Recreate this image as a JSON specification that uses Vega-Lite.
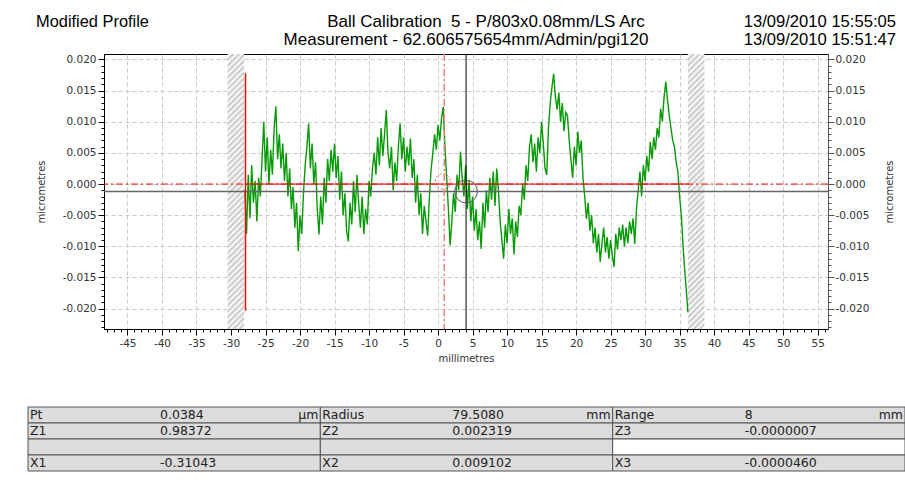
{
  "$schema": "https://vega.github.io/schema/vega-lite/v6.json",
  "padding": {"left": 27, "top": 13, "right": 0, "bottom": 0},
  "background": "white",
  "config": {"font": "DejaVu Sans", "view": {"stroke": null}},
  "datasets": {
    "header": [
      {"pos": "left", "line": 1, "text": "Modified Profile"},
      {"pos": "center", "line": 1, "text": "Ball Calibration \u00a05 - P/803x0.08mm/LS Arc"},
      {"pos": "center", "line": 2, "text": "Measurement - 62.606575654mm/Admin/pgi120"},
      {"pos": "right", "line": 1, "text": "13/09/2010 15:55:05"},
      {"pos": "right", "line": 2, "text": "13/09/2010 15:51:47"}
    ],
    "exclusion": [
      {"start": -30.5, "end": -28.1},
      {"start": 36.2, "end": 38.6}
    ],
    "profile": [
      {"x":-28.0,"z":-0.001},{"x":-27.75,"z":-0.008},{"x":-27.5,"z":0.0015},{"x":-27.25,"z":-0.0055},{"x":-27.0,"z":0.003},
      {"x":-26.75,"z":-0.003},{"x":-26.5,"z":0.0005},{"x":-26.25,"z":-0.006},{"x":-26.0,"z":0.001},{"x":-25.75,"z":-0.002},
      {"x":-25.5,"z":0.004},{"x":-25.25,"z":0.010},{"x":-25.0,"z":0.002},{"x":-24.75,"z":0.0075},{"x":-24.5,"z":0.0},
      {"x":-24.25,"z":0.0055},{"x":-24.0,"z":0.0015},{"x":-23.75,"z":0.009},{"x":-23.5,"z":0.0125},{"x":-23.25,"z":0.004},
      {"x":-23.0,"z":0.008},{"x":-22.75,"z":0.0025},{"x":-22.5,"z":0.0065},{"x":-22.25,"z":0.0005},{"x":-22.0,"z":0.005},
      {"x":-21.75,"z":-0.002},{"x":-21.5,"z":0.0025},{"x":-21.25,"z":-0.004},{"x":-21.0,"z":-0.0005},{"x":-20.75,"z":-0.007},
      {"x":-20.5,"z":-0.003},{"x":-20.25,"z":-0.0108},{"x":-20.0,"z":-0.005},{"x":-19.75,"z":-0.008},{"x":-19.5,"z":-0.0015},
      {"x":-19.25,"z":0.003},{"x":-19.0,"z":0.006},{"x":-18.75,"z":0.0097},{"x":-18.5,"z":0.0025},{"x":-18.25,"z":0.0065},
      {"x":-18.0,"z":0.0},{"x":-17.75,"z":0.0035},{"x":-17.5,"z":-0.004},{"x":-17.25,"z":-0.0081},{"x":-17.0,"z":-0.002},
      {"x":-16.75,"z":-0.0065},{"x":-16.5,"z":0.001},{"x":-16.25,"z":-0.003},{"x":-16.0,"z":0.004},{"x":-15.75,"z":0.0005},
      {"x":-15.5,"z":0.0055},{"x":-15.25,"z":0.002},{"x":-15.0,"z":0.0065},{"x":-14.75,"z":0.001},{"x":-14.5,"z":0.0045},
      {"x":-14.25,"z":-0.0025},{"x":-14.0,"z":0.002},{"x":-13.75,"z":-0.005},{"x":-13.5,"z":-0.0015},{"x":-13.25,"z":-0.0075},
      {"x":-13.0,"z":-0.0092},{"x":-12.75,"z":-0.003},{"x":-12.5,"z":-0.0065},{"x":-12.25,"z":0.0005},{"x":-12.0,"z":-0.0045},
      {"x":-11.75,"z":0.0015},{"x":-11.5,"z":-0.003},{"x":-11.25,"z":-0.007},{"x":-11.0,"z":-0.002},{"x":-10.75,"z":-0.008},
      {"x":-10.5,"z":-0.004},{"x":-10.25,"z":-0.0065},{"x":-10.0,"z":0.0005},{"x":-9.75,"z":-0.002},{"x":-9.5,"z":0.0025},
      {"x":-9.25,"z":0.005},{"x":-9.0,"z":0.0015},{"x":-8.75,"z":0.0075},{"x":-8.5,"z":0.003},{"x":-8.25,"z":0.009},
      {"x":-8.0,"z":0.0045},{"x":-7.75,"z":0.008},{"x":-7.5,"z":0.0119},{"x":-7.25,"z":0.005},{"x":-7.0,"z":0.0025},
      {"x":-6.75,"z":0.006},{"x":-6.5,"z":-0.001},{"x":-6.25,"z":0.0035},{"x":-6.0,"z":0.0005},{"x":-5.75,"z":0.006},
      {"x":-5.5,"z":0.0097},{"x":-5.25,"z":0.004},{"x":-5.0,"z":0.0075},{"x":-4.75,"z":0.002},{"x":-4.5,"z":0.006},
      {"x":-4.25,"z":0.003},{"x":-4.0,"z":0.0073},{"x":-3.75,"z":0.001},{"x":-3.5,"z":0.004},{"x":-3.25,"z":-0.003},
      {"x":-3.0,"z":0.0015},{"x":-2.75,"z":-0.005},{"x":-2.5,"z":-0.0015},{"x":-2.25,"z":-0.008},{"x":-2.0,"z":-0.0035},
      {"x":-1.75,"z":-0.006},{"x":-1.5,"z":-0.0083},{"x":-1.25,"z":-0.002},{"x":-1.0,"z":0.0025},{"x":-0.75,"z":0.005},
      {"x":-0.5,"z":0.008},{"x":-0.25,"z":0.0055},{"x":0.0,"z":0.0095},{"x":0.25,"z":0.007},{"x":0.5,"z":0.0105},
      {"x":0.75,"z":0.0124},{"x":1.0,"z":0.006},{"x":1.25,"z":0.001},{"x":1.5,"z":-0.004},{"x":1.75,"z":-0.0098},
      {"x":2.0,"z":-0.006},{"x":2.25,"z":-0.0015},{"x":2.5,"z":-0.0045},{"x":2.75,"z":0.0015},{"x":3.0,"z":-0.001},
      {"x":3.25,"z":0.0052},{"x":3.5,"z":0.001},{"x":3.75,"z":-0.002},{"x":4.0,"z":0.003},{"x":4.25,"z":-0.004},
      {"x":4.5,"z":0.0005},{"x":4.75,"z":-0.006},{"x":5.0,"z":-0.002},{"x":5.25,"z":-0.0075},{"x":5.5,"z":-0.004},
      {"x":5.75,"z":-0.009},{"x":6.0,"z":-0.006},{"x":6.25,"z":-0.0104},{"x":6.5,"z":-0.003},{"x":6.75,"z":-0.007},
      {"x":7.0,"z":-0.001},{"x":7.25,"z":-0.0045},{"x":7.5,"z":0.001},{"x":7.75,"z":-0.0025},{"x":8.0,"z":0.002},
      {"x":8.25,"z":-0.0035},{"x":8.5,"z":0.0025},{"x":8.75,"z":-0.001},{"x":9.0,"z":-0.006},{"x":9.25,"z":-0.009},
      {"x":9.5,"z":-0.012},{"x":9.75,"z":-0.0065},{"x":10.0,"z":-0.0095},{"x":10.25,"z":-0.004},{"x":10.5,"z":-0.008},
      {"x":10.75,"z":-0.0055},{"x":11.0,"z":-0.0113},{"x":11.25,"z":-0.006},{"x":11.5,"z":-0.0085},{"x":11.75,"z":-0.0035},
      {"x":12.0,"z":-0.005},{"x":12.25,"z":0.0},{"x":12.5,"z":-0.0025},{"x":12.75,"z":0.003},{"x":13.0,"z":0.0005},
      {"x":13.25,"z":0.006},{"x":13.5,"z":0.008},{"x":13.75,"z":0.0035},{"x":14.0,"z":0.0065},{"x":14.25,"z":0.002},
      {"x":14.5,"z":0.0075},{"x":14.75,"z":0.005},{"x":15.0,"z":0.010},{"x":15.25,"z":0.0065},{"x":15.5,"z":0.0025},
      {"x":15.75,"z":0.0015},{"x":16.0,"z":0.009},{"x":16.25,"z":0.013},{"x":16.5,"z":0.0155},{"x":16.75,"z":0.0177},
      {"x":17.0,"z":0.014},{"x":17.25,"z":0.012},{"x":17.5,"z":0.0147},{"x":17.75,"z":0.010},{"x":18.0,"z":0.013},
      {"x":18.25,"z":0.0085},{"x":18.5,"z":0.0115},{"x":18.75,"z":0.011},{"x":19.0,"z":0.007},{"x":19.25,"z":0.004},
      {"x":19.5,"z":0.001},{"x":19.75,"z":0.006},{"x":20.0,"z":0.003},{"x":20.25,"z":0.0084},{"x":20.5,"z":0.005},
      {"x":20.75,"z":0.007},{"x":21.0,"z":0.001},{"x":21.25,"z":-0.002},{"x":21.5,"z":-0.0056},{"x":21.75,"z":-0.003},
      {"x":22.0,"z":-0.0075},{"x":22.25,"z":-0.005},{"x":22.5,"z":-0.0095},{"x":22.75,"z":-0.007},{"x":23.0,"z":-0.011},
      {"x":23.25,"z":-0.008},{"x":23.5,"z":-0.0125},{"x":23.75,"z":-0.0095},{"x":24.0,"z":-0.007},{"x":24.25,"z":-0.011},
      {"x":24.5,"z":-0.0085},{"x":24.75,"z":-0.012},{"x":25.0,"z":-0.009},{"x":25.25,"z":-0.0115},{"x":25.5,"z":-0.0133},
      {"x":25.75,"z":-0.008},{"x":26.0,"z":-0.0105},{"x":26.25,"z":-0.007},{"x":26.5,"z":-0.009},{"x":26.75,"z":-0.0065},
      {"x":27.0,"z":-0.010},{"x":27.25,"z":-0.007},{"x":27.5,"z":-0.0095},{"x":27.75,"z":-0.006},{"x":28.0,"z":-0.008},
      {"x":28.25,"z":-0.0055},{"x":28.5,"z":-0.0096},{"x":28.75,"z":-0.004},{"x":29.0,"z":-0.001},{"x":29.25,"z":0.002},
      {"x":29.5,"z":-0.002},{"x":29.75,"z":0.003},{"x":30.0,"z":0.0005},{"x":30.25,"z":0.0045},{"x":30.5,"z":0.002},
      {"x":30.75,"z":0.0068},{"x":31.0,"z":0.004},{"x":31.25,"z":0.0075},{"x":31.5,"z":0.0055},{"x":31.75,"z":0.009},
      {"x":32.0,"z":0.0075},{"x":32.25,"z":0.0121},{"x":32.5,"z":0.010},{"x":32.75,"z":0.014},{"x":33.0,"z":0.0164},
      {"x":33.25,"z":0.0135},{"x":33.5,"z":0.011},{"x":33.75,"z":0.009},{"x":34.0,"z":0.007},{"x":34.25,"z":0.006},
      {"x":34.5,"z":0.0035},{"x":34.75,"z":0.002},{"x":35.0,"z":-0.002},{"x":35.25,"z":-0.005},{"x":35.5,"z":-0.010},
      {"x":35.75,"z":-0.014},{"x":36.0,"z":-0.0175},{"x":36.2,"z":-0.0206}
    ],
    "table": [
      {"row": 1, "col": 1, "label": "Pt", "value": "0.0384", "unit": "µm"},
      {"row": 1, "col": 2, "label": "Radius", "value": "79.5080", "unit": "mm"},
      {"row": 1, "col": 3, "label": "Range", "value": "8", "unit": "mm"},
      {"row": 2, "col": 1, "label": "Z1", "value": "0.98372", "unit": ""},
      {"row": 2, "col": 2, "label": "Z2", "value": "0.002319", "unit": ""},
      {"row": 2, "col": 3, "label": "Z3", "value": "-0.0000007", "unit": ""},
      {"row": 3, "col": 1, "label": "", "value": "", "unit": ""},
      {"row": 3, "col": 2, "label": "", "value": "", "unit": ""},
      {"row": 3, "col": 3, "label": "", "value": "", "unit": ""},
      {"row": 4, "col": 1, "label": "X1", "value": "-0.31043", "unit": ""},
      {"row": 4, "col": 2, "label": "X2", "value": "0.009102", "unit": ""},
      {"row": 4, "col": 3, "label": "X3", "value": "-0.0000460", "unit": ""}
    ]
  },
  "spacing": 42,
  "vconcat": [
    {
      "spacing": 3,
      "vconcat": [
        {
          "width": 792,
          "height": 36,
          "data": {"name": "header"},
          "encoding": {
            "x": {"field": "pos", "type": "nominal", "scale": {"type": "point", "domain": ["left", "center", "right"], "padding": 0, "range": [-68, 792]}, "axis": null},
            "y": {"field": "line", "type": "ordinal", "scale": {"type": "band", "domain": [1, 2], "paddingInner": 0, "paddingOuter": 0}, "axis": null},
            "text": {"field": "text"}
          },
          "layer": [
            {"transform": [{"filter": "datum.pos === 'left'"}], "mark": {"type": "text", "align": "left", "baseline": "middle", "font": "Liberation Sans", "fontSize": 16.4, "color": "#000000"}},
            {"transform": [{"filter": "datum.pos === 'center' && datum.line === 1"}], "mark": {"type": "text", "align": "center", "baseline": "middle", "dx": 20, "font": "Liberation Sans", "fontSize": 17, "color": "#000000"}},
            {"transform": [{"filter": "datum.pos === 'center' && datum.line === 2"}], "mark": {"type": "text", "align": "center", "baseline": "middle", "dx": 0, "font": "Liberation Sans", "fontSize": 17, "color": "#000000"}},
            {"transform": [{"filter": "datum.pos === 'right'"}], "mark": {"type": "text", "align": "right", "baseline": "middle", "font": "Liberation Sans", "fontSize": 16.6, "color": "#000000"}}
          ]
        },
        {
          "width": 724,
          "height": 275,
          "view": {"stroke": "#000000", "strokeWidth": 1},
          "resolve": {"axis": {"x": "independent", "y": "independent"}},
          "layer": [
            {
              "data": {"name": "exclusion"},
              "mark": {"type": "rect", "strokeWidth": 0, "fill": {"gradient": "linear", "x1": 0, "y1": 0, "x2": 0.0637, "y2": 1.06, "stops": [
                {"offset":0.00,"color":"#c4c4c4"},{"offset":0.01,"color":"#ffffff"},{"offset":0.02,"color":"#c4c4c4"},{"offset":0.03,"color":"#ffffff"},{"offset":0.04,"color":"#c4c4c4"},{"offset":0.05,"color":"#ffffff"},{"offset":0.06,"color":"#c4c4c4"},{"offset":0.07,"color":"#ffffff"},{"offset":0.08,"color":"#c4c4c4"},{"offset":0.09,"color":"#ffffff"},
                {"offset":0.10,"color":"#c4c4c4"},{"offset":0.11,"color":"#ffffff"},{"offset":0.12,"color":"#c4c4c4"},{"offset":0.13,"color":"#ffffff"},{"offset":0.14,"color":"#c4c4c4"},{"offset":0.15,"color":"#ffffff"},{"offset":0.16,"color":"#c4c4c4"},{"offset":0.17,"color":"#ffffff"},{"offset":0.18,"color":"#c4c4c4"},{"offset":0.19,"color":"#ffffff"},
                {"offset":0.20,"color":"#c4c4c4"},{"offset":0.21,"color":"#ffffff"},{"offset":0.22,"color":"#c4c4c4"},{"offset":0.23,"color":"#ffffff"},{"offset":0.24,"color":"#c4c4c4"},{"offset":0.25,"color":"#ffffff"},{"offset":0.26,"color":"#c4c4c4"},{"offset":0.27,"color":"#ffffff"},{"offset":0.28,"color":"#c4c4c4"},{"offset":0.29,"color":"#ffffff"},
                {"offset":0.30,"color":"#c4c4c4"},{"offset":0.31,"color":"#ffffff"},{"offset":0.32,"color":"#c4c4c4"},{"offset":0.33,"color":"#ffffff"},{"offset":0.34,"color":"#c4c4c4"},{"offset":0.35,"color":"#ffffff"},{"offset":0.36,"color":"#c4c4c4"},{"offset":0.37,"color":"#ffffff"},{"offset":0.38,"color":"#c4c4c4"},{"offset":0.39,"color":"#ffffff"},
                {"offset":0.40,"color":"#c4c4c4"},{"offset":0.41,"color":"#ffffff"},{"offset":0.42,"color":"#c4c4c4"},{"offset":0.43,"color":"#ffffff"},{"offset":0.44,"color":"#c4c4c4"},{"offset":0.45,"color":"#ffffff"},{"offset":0.46,"color":"#c4c4c4"},{"offset":0.47,"color":"#ffffff"},{"offset":0.48,"color":"#c4c4c4"},{"offset":0.49,"color":"#ffffff"},
                {"offset":0.50,"color":"#c4c4c4"},{"offset":0.51,"color":"#ffffff"},{"offset":0.52,"color":"#c4c4c4"},{"offset":0.53,"color":"#ffffff"},{"offset":0.54,"color":"#c4c4c4"},{"offset":0.55,"color":"#ffffff"},{"offset":0.56,"color":"#c4c4c4"},{"offset":0.57,"color":"#ffffff"},{"offset":0.58,"color":"#c4c4c4"},{"offset":0.59,"color":"#ffffff"},
                {"offset":0.60,"color":"#c4c4c4"},{"offset":0.61,"color":"#ffffff"},{"offset":0.62,"color":"#c4c4c4"},{"offset":0.63,"color":"#ffffff"},{"offset":0.64,"color":"#c4c4c4"},{"offset":0.65,"color":"#ffffff"},{"offset":0.66,"color":"#c4c4c4"},{"offset":0.67,"color":"#ffffff"},{"offset":0.68,"color":"#c4c4c4"},{"offset":0.69,"color":"#ffffff"},
                {"offset":0.70,"color":"#c4c4c4"},{"offset":0.71,"color":"#ffffff"},{"offset":0.72,"color":"#c4c4c4"},{"offset":0.73,"color":"#ffffff"},{"offset":0.74,"color":"#c4c4c4"},{"offset":0.75,"color":"#ffffff"},{"offset":0.76,"color":"#c4c4c4"},{"offset":0.77,"color":"#ffffff"},{"offset":0.78,"color":"#c4c4c4"},{"offset":0.79,"color":"#ffffff"},
                {"offset":0.80,"color":"#c4c4c4"},{"offset":0.81,"color":"#ffffff"},{"offset":0.82,"color":"#c4c4c4"},{"offset":0.83,"color":"#ffffff"},{"offset":0.84,"color":"#c4c4c4"},{"offset":0.85,"color":"#ffffff"},{"offset":0.86,"color":"#c4c4c4"},{"offset":0.87,"color":"#ffffff"},{"offset":0.88,"color":"#c4c4c4"},{"offset":0.89,"color":"#ffffff"},
                {"offset":0.90,"color":"#c4c4c4"},{"offset":0.91,"color":"#ffffff"},{"offset":0.92,"color":"#c4c4c4"},{"offset":0.93,"color":"#ffffff"},{"offset":0.94,"color":"#c4c4c4"},{"offset":0.95,"color":"#ffffff"},{"offset":0.96,"color":"#c4c4c4"},{"offset":0.97,"color":"#ffffff"},{"offset":0.98,"color":"#c4c4c4"},{"offset":0.99,"color":"#ffffff"},
                {"offset":1.00,"color":"#c4c4c4"}
              ]}},
              "encoding": {
                "x": {"field": "start", "type": "quantitative", "scale": {"domain": [-48.4, 56.5], "nice": false, "zero": false}, "axis": null},
                "x2": {"field": "end"}
              }
            },
            {
              "data": {"values": [{"z": 0}]},
              "mark": {"type": "rule", "color": "#ff0000", "strokeWidth": 1, "strokeDash": [7, 3, 2, 3]},
              "encoding": {
                "y": {"field": "z", "type": "quantitative", "scale": {"domain": [-0.02327, 0.02088], "nice": false, "zero": false}, "axis": null}
              }
            },
            {
              "data": {"name": "profile"},
              "mark": {"type": "line", "color": "#079a07", "strokeWidth": 1.4, "interpolate": "linear"},
              "encoding": {
                "x": {"field": "x", "type": "quantitative", "scale": {"domain": [-48.4, 56.5], "nice": false, "zero": false},
                  "axis": {"orient": "bottom", "values": [-45, -40, -35, -30, -25, -20, -15, -10, -5, 0, 5, 10, 15, 20, 25, 30, 35, 40, 45, 50, 55], "format": "d", "labelExpr": "replace(datum.label, '−', '-')", "labelFontSize": 10.5, "labelColor": "#333333", "labelPadding": 3, "labelFlush": false, "labelOverlap": false, "tickSize": 6, "tickColor": "#000000", "domainColor": "#000000", "grid": true, "gridColor": "#c8c8c8", "gridDash": [4, 3], "title": "millimetres", "titleFontSize": 10, "titleFontWeight": "normal", "titleColor": "#333333", "titlePadding": 5}},
                "y": {"field": "z", "type": "quantitative", "scale": {"domain": [-0.02327, 0.02088], "nice": false, "zero": false},
                  "axis": {"orient": "left", "values": [-0.02, -0.015, -0.01, -0.005, 0, 0.005, 0.01, 0.015, 0.02], "format": ".3f", "labelExpr": "replace(datum.label, '−', '-')", "labelFontSize": 10.5, "labelColor": "#333333", "labelPadding": 2, "tickSize": 6, "tickColor": "#000000", "domainColor": "#000000", "grid": true, "gridColor": "#c8c8c8", "gridDash": [4, 3], "title": "micrometres", "titleFontSize": 10, "titleFontWeight": "normal", "titleColor": "#333333", "titlePadding": 16}}
              }
            },
            {
              "data": {"values": [{"z": -0.0012}]},
              "mark": {"type": "rule", "color": "#666666", "strokeWidth": 1.5},
              "encoding": {
                "y": {"field": "z", "type": "quantitative", "scale": {"domain": [-0.02327, 0.02088], "nice": false, "zero": false},
                  "axis": {"orient": "right", "values": [-0.023, -0.022, -0.021, -0.02, -0.019, -0.018, -0.017, -0.016, -0.015, -0.014, -0.013, -0.012, -0.011, -0.01, -0.009, -0.008, -0.007, -0.006, -0.005, -0.004, -0.003, -0.002, -0.001, 0, 0.001, 0.002, 0.003, 0.004, 0.005, 0.006, 0.007, 0.008, 0.009, 0.01, 0.011, 0.012, 0.013, 0.014, 0.015, 0.016, 0.017, 0.018, 0.019, 0.02], "labels": false, "tickSize": 3, "tickColor": "#555555", "domain": false, "grid": false, "title": null}}
              }
            },
            {
              "data": {"values": [{"x": -27.9, "x2": 36.4, "z": 0}]},
              "mark": {"type": "rule", "color": "#ff0000", "strokeWidth": 1},
              "encoding": {
                "x": {"field": "x", "type": "quantitative", "scale": {"domain": [-48.4, 56.5], "nice": false, "zero": false},
                  "axis": {"orient": "bottom", "values": [-48, -47, -46, -45, -44, -43, -42, -41, -40, -39, -38, -37, -36, -35, -34, -33, -32, -31, -30, -29, -28, -27, -26, -25, -24, -23, -22, -21, -20, -19, -18, -17, -16, -15, -14, -13, -12, -11, -10, -9, -8, -7, -6, -5, -4, -3, -2, -1, 0, 1, 2, 3, 4, 5, 6, 7, 8, 9, 10, 11, 12, 13, 14, 15, 16, 17, 18, 19, 20, 21, 22, 23, 24, 25, 26, 27, 28, 29, 30, 31, 32, 33, 34, 35, 36, 37, 38, 39, 40, 41, 42, 43, 44, 45, 46, 47, 48, 49, 50, 51, 52, 53, 54, 55, 56], "labels": false, "tickSize": 3, "tickColor": "#000000", "domain": false, "grid": false, "title": null}},
                "x2": {"field": "x2"},
                "y": {"field": "z", "type": "quantitative", "scale": {"domain": [-0.02327, 0.02088], "nice": false, "zero": false},
                  "axis": {"orient": "right", "values": [-0.02, -0.015, -0.01, -0.005, 0, 0.005, 0.01, 0.015, 0.02], "format": ".3f", "labelExpr": "replace(datum.label, '−', '-')", "labelFontSize": 10.5, "labelColor": "#333333", "labelPadding": 1, "tickSize": 6, "tickColor": "#555555", "domainColor": "#555555", "grid": false, "title": "micrometres", "titleFontSize": 10, "titleFontWeight": "normal", "titleColor": "#333333", "titleAngle": 270, "titleBaseline": "top", "titlePadding": 16}}
              }
            },
            {
              "data": {"values": [{"x": -27.9, "z": 0.0178, "z2": -0.0203}]},
              "mark": {"type": "rule", "color": "#ff0000", "strokeWidth": 1.5},
              "encoding": {
                "x": {"field": "x", "type": "quantitative", "scale": {"domain": [-48.4, 56.5], "nice": false, "zero": false}, "axis": null},
                "y": {"field": "z", "type": "quantitative", "scale": {"domain": [-0.02327, 0.02088], "nice": false, "zero": false},
                  "axis": {"orient": "left", "values": [-0.023, -0.022, -0.021, -0.02, -0.019, -0.018, -0.017, -0.016, -0.015, -0.014, -0.013, -0.012, -0.011, -0.01, -0.009, -0.008, -0.007, -0.006, -0.005, -0.004, -0.003, -0.002, -0.001, 0, 0.001, 0.002, 0.003, 0.004, 0.005, 0.006, 0.007, 0.008, 0.009, 0.01, 0.011, 0.012, 0.013, 0.014, 0.015, 0.016, 0.017, 0.018, 0.019, 0.02], "labels": false, "tickSize": 3, "tickColor": "#000000", "domain": false, "grid": false, "title": null}},
                "y2": {"field": "z2"}
              }
            },
            {
              "data": {"values": [{"x": 0.9}]},
              "mark": {"type": "rule", "color": "#f08080", "strokeWidth": 1.5, "strokeDash": [7, 3, 2, 3]},
              "encoding": {
                "x": {"field": "x", "type": "quantitative", "scale": {"domain": [-48.4, 56.5], "nice": false, "zero": false}, "axis": null}
              }
            },
            {
              "data": {"values": [{"x": 4.06}]},
              "mark": {"type": "rule", "color": "#000000", "strokeWidth": 1},
              "encoding": {
                "x": {"field": "x", "type": "quantitative", "scale": {"domain": [-48.4, 56.5], "nice": false, "zero": false}, "axis": null}
              }
            },
            {
              "data": {"values": [{"x": 4.06, "z": -0.0012}]},
              "mark": {"type": "point", "shape": "circle", "filled": false, "size": 520, "stroke": "#555555", "strokeWidth": 1, "opacity": 1},
              "encoding": {
                "x": {"field": "x", "type": "quantitative", "scale": {"domain": [-48.4, 56.5], "nice": false, "zero": false}, "axis": null},
                "y": {"field": "z", "type": "quantitative", "scale": {"domain": [-0.02327, 0.02088], "nice": false, "zero": false}, "axis": null}
              }
            },
            {
              "data": {"values": [{"x": 0.7, "z": 0.0004}]},
              "mark": {"type": "point", "shape": "circle", "filled": false, "size": 230, "stroke": "#ff5050", "strokeWidth": 1, "strokeDash": [2, 2], "opacity": 1},
              "encoding": {
                "x": {"field": "x", "type": "quantitative", "scale": {"domain": [-48.4, 56.5], "nice": false, "zero": false}, "axis": null},
                "y": {"field": "z", "type": "quantitative", "scale": {"domain": [-0.02327, 0.02088], "nice": false, "zero": false}, "axis": null}
              }
            }
          ]
        }
      ]
    },
    {
      "width": 801,
      "height": 64,
      "data": {"name": "table"},
      "encoding": {
        "x": {"field": "col", "type": "ordinal", "scale": {"type": "band", "domain": [1, 2, 3], "paddingInner": 0, "paddingOuter": 0, "range": [-76, 801]}, "axis": null},
        "y": {"field": "row", "type": "ordinal", "scale": {"type": "band", "domain": [1, 2, 3, 4], "paddingInner": 0, "paddingOuter": 0}, "axis": null}
      },
      "layer": [
        {
          "mark": {"type": "rect", "stroke": "#555555", "strokeWidth": 1},
          "encoding": {"fill": {"condition": {"test": "datum.row === 3 && datum.col === 3", "value": "#ffffff"}, "value": "#dcdcdc"}}
        },
        {
          "mark": {"type": "text", "align": "left", "baseline": "middle", "dx": 2, "fontSize": 12.5, "color": "#222222"},
          "encoding": {
            "x": {"field": "col", "type": "ordinal", "bandPosition": 0, "scale": {"type": "band", "domain": [1, 2, 3], "paddingInner": 0, "paddingOuter": 0, "range": [-76, 801]}, "axis": null},
            "text": {"field": "label"}
          }
        },
        {
          "mark": {"type": "text", "align": "left", "baseline": "middle", "dx": 132, "fontSize": 12.5, "color": "#222222"},
          "encoding": {
            "x": {"field": "col", "type": "ordinal", "bandPosition": 0, "scale": {"type": "band", "domain": [1, 2, 3], "paddingInner": 0, "paddingOuter": 0, "range": [-76, 801]}, "axis": null},
            "text": {"field": "value"}
          }
        },
        {
          "mark": {"type": "text", "align": "right", "baseline": "middle", "dx": -2, "fontSize": 12.5, "color": "#222222"},
          "encoding": {
            "x": {"field": "col", "type": "ordinal", "bandPosition": 1, "scale": {"type": "band", "domain": [1, 2, 3], "paddingInner": 0, "paddingOuter": 0, "range": [-76, 801]}, "axis": null},
            "text": {"field": "unit"}
          }
        }
      ]
    }
  ]
}
